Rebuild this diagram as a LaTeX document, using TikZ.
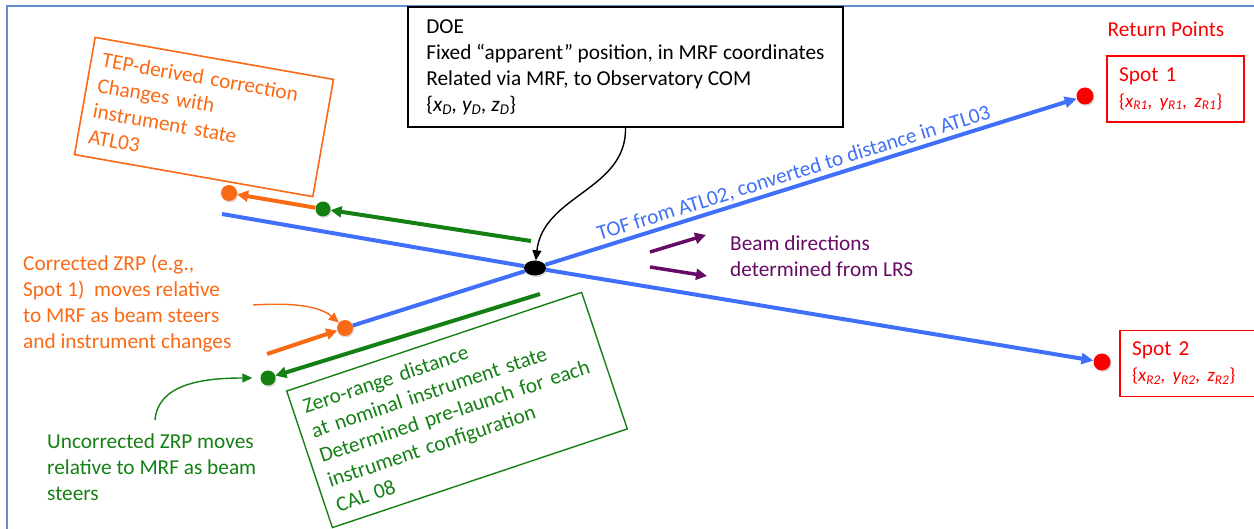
\documentclass[tikz,border=0pt]{standalone}
\usepackage{fontspec}
\setmainfont{Carlito}
\usetikzlibrary{arrows.meta, positioning, shapes.geometric, shadows}

\definecolor{frameblue}{RGB}{98,141,206}
\definecolor{beamblue}{RGB}{64,112,250}
\definecolor{tepor}{RGB}{250,105,20}
\definecolor{zrpgreen}{RGB}{20,128,20}
\definecolor{lrspurple}{RGB}{102,10,102}
\definecolor{spotred}{RGB}{250,0,0}

\begin{document}
\begin{tikzpicture}[
    x=1pt, y=-1pt,
    font=\fontsize{21.3}{26}\selectfont,
    doebox/.style={rectangle, draw=black, line width=1.2pt, fill=white, align=left, minimum width=435pt, minimum height=120pt},
    tepbox/.style={rectangle, draw=tepor, line width=1.6pt, text=tepor, align=left, rotate=-10, minimum width=242pt, minimum height=119pt, text width=220pt, inner xsep=11pt},
    calbox/.style={rectangle, draw=zrpgreen, line width=1.4pt, text=zrpgreen, align=left, rotate=18.5, minimum width=311pt, minimum height=144pt, text width=289pt, inner xsep=11pt},
    spotbox/.style={rectangle, draw=spotred, line width=1.8pt, text=spotred, align=left, minimum width=137pt, minimum height=66pt, text width=113pt, inner xsep=12pt},
    notetext/.style={align=left, inner sep=0pt},
    blob/.style={circle, inner sep=0pt, minimum size=#1, drop shadow={shadow xshift=1pt, shadow yshift=-1.5pt, opacity=0.3}},
    beam/.style={line width=4pt, draw=beamblue},
    tip/.style={-{Triangle[length=12pt, width=11pt]}},
    moveline/.style={-{Triangle[length=11pt, width=11pt]}, line width=4pt, draw=#1},
    leader/.style={-{Triangle[length=10pt, width=9pt]}, line width=1.4pt, draw=#1},
]

\useasboundingbox (0,0) rectangle (1254,529);
\clip (0,0) rectangle (1254,529);

% frame
\draw[frameblue, line width=2pt] (7,600) -- (7,6) -- (1300,6);

% points
\node[ellipse, fill=black, inner sep=0pt, minimum width=22pt, minimum height=15pt, drop shadow={shadow xshift=1pt, shadow yshift=-1.5pt, opacity=0.3}] (doe-pt) at (535,268) {};
\node[blob=17pt, fill=spotred] (spot1) at (1085,96) {};
\node[blob=17pt, fill=spotred] (spot2) at (1102,362) {};
\node[blob=16pt, fill=tepor] (tep-pt) at (229,193) {};
\node[blob=16pt, fill=tepor] (corr-pt) at (345,328) {};
\node[blob=15pt, fill=zrpgreen] (zrp-pt) at (323,209) {};
\node[blob=15pt, fill=zrpgreen] (unc-pt) at (268,378) {};

% beams
\coordinate (beam2-start) at (222,214);
\draw[beam] (beam2-start) -- (doe-pt);
\draw[beam, tip] (doe-pt) -- (spot2);
\draw[beam] (corr-pt) -- (doe-pt);
\draw[beam, tip] (doe-pt) -- (spot1)
    node[pos=0.475, sloped, above=0pt, inner sep=2pt, text=beamblue] (tof-label) {TOF from ATL02, converted to distance in ATL03};

% DOE
\node[doebox] (doe) at (625.5,67) {DOE\\Fixed “apparent” position, in MRF coordinates\\Related via MRF, to Observatory COM\\\{\textit{x\textsubscript{D}, y\textsubscript{D}, z\textsubscript{D}}\}};
\draw[leader=black] (doe.south) .. controls (627,190) and (543,195) .. (doe-pt);

% return points
\node[text=spotred] (ret-label) at (1166,29) {Return Points};
\node[spotbox, right=12.5pt of spot1, yshift=7pt] (spot1-box) {Spot 1\\{\fontsize{19}{20}\selectfont\{\textit{x\textsubscript{R1}, y\textsubscript{R1}, z\textsubscript{R1}}\}}};
\node[spotbox, right=8.5pt of spot2, yshift=-1.5pt] (spot2-box) {Spot 2\\{\fontsize{19}{20}\selectfont\{\textit{x\textsubscript{R2}, y\textsubscript{R2}, z\textsubscript{R2}}\}}};

% TEP correction
\node[tepbox] (tep-note) at (204,117) {TEP-derived correction\\Changes with\\instrument state\\ATL03};
\coordinate (zrp-tail) at (531,241);
\draw[moveline=zrpgreen] (zrp-tail) -- (zrp-pt);
\draw[moveline=tepor] (zrp-pt) -- (tep-pt);

% corrected / uncorrected ZRP
\coordinate (unc-tail) at (540,294);
\draw[moveline=zrpgreen] (unc-tail) -- (unc-pt);
\coordinate (corr-tail) at (267,354);
\draw[moveline=tepor] (corr-tail) -- (corr-pt);

\node[notetext, text=tepor, anchor=west] (corr-note) at (23,304) {Corrected ZRP (e.g.,\\Spot 1)~ moves relative\\to MRF as beam steers\\and instrument changes};
\coordinate (corr-lead) at (253,305);
\draw[leader=tepor] (corr-lead) .. controls (300,302) and (322,308) .. (corr-pt);

\node[notetext, text=zrpgreen, anchor=west] (unc-note) at (47,467) {Uncorrected ZRP moves\\relative to MRF as beam\\steers};
\coordinate (unc-lead) at (155,420);
\draw[leader=zrpgreen, shorten >=8pt] (unc-lead) .. controls (158,385) and (200,378) .. (unc-pt);

% CAL 08
\node[calbox] (cal-note) at (457,410) {Zero-range distance\\at nominal instrument state\\Determined pre-launch for each\\instrument configuration\\CAL 08};

% LRS
\coordinate (lrs-a) at (650,252);
\coordinate (lrs-a-end) at (706,235);
\coordinate (lrs-b) at (650,267);
\coordinate (lrs-b-end) at (707,276);
\draw[moveline=lrspurple, line width=3.5pt] (lrs-a) -- (lrs-a-end);
\draw[moveline=lrspurple, line width=3.5pt] (lrs-b) -- (lrs-b-end);
\node[notetext, text=lrspurple, anchor=west] (lrs-note) at (730,256) {Beam directions\\determined from LRS};
\end{tikzpicture}
\end{document}
